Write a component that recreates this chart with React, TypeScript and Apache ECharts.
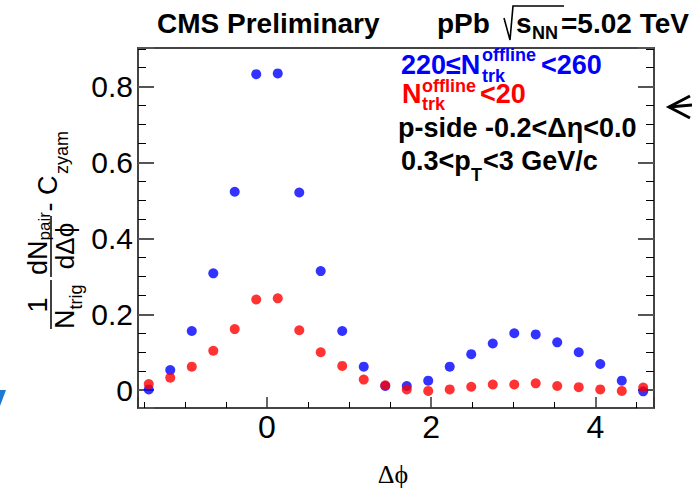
import React, { useEffect, useRef } from "react";
import * as echarts from "echarts";

const dphi = [-1.440, -1.178, -0.916, -0.654, -0.393, -0.131, 0.131, 0.393, 0.654, 0.916, 1.178, 1.440,
  1.702, 1.963, 2.225, 2.487, 2.749, 3.011, 3.272, 3.534, 3.796, 4.058, 4.320, 4.581];
const highMult = [0.002, 0.053, 0.156, 0.308, 0.523, 0.833, 0.835, 0.521, 0.314, 0.156, 0.062, 0.011,
  0.011, 0.025, 0.062, 0.095, 0.123, 0.150, 0.147, 0.126, 0.100, 0.069, 0.025, -0.003];
const lowMult = [0.016, 0.033, 0.062, 0.104, 0.161, 0.239, 0.242, 0.158, 0.100, 0.064, 0.028, 0.013,
  0.002, -0.002, 0.002, 0.009, 0.015, 0.015, 0.018, 0.011, 0.008, 0.002, -0.002, 0.007];

const X_MIN = -Math.PI / 2;
const X_MAX = (3 * Math.PI) / 2;
const Y_MIN = -0.047;
const Y_MAX = 0.902;

const SANS = '"Liberation Sans", Arial, sans-serif';
const SERIF = '"Liberation Serif", "Times New Roman", serif';

function txt(text: string, x: number, y: number, size: number, color: string, bold = true, align = "left", family = SANS) {
  return {
    type: "text",
    x,
    y,
    silent: true,
    style: {
      text,
      fill: color,
      font: `${bold ? "bold " : ""}${size}px ${family}`,
      lineHeight: Math.round(size * 0.75),
      align,
      verticalAlign: "middle",
      textAlign: align,
      textVerticalAlign: "middle",
    },
  };
}

export default function App() {
  const ref = useRef<HTMLDivElement>(null);
  useEffect(() => {
    if (!ref.current) return;
    const chart = echarts.init(ref.current, null, { renderer: "svg" });

    const yTitle = {
      type: "group",
      x: 51,
      y: 332,
      rotation: Math.PI / 2,
      children: [
        { type: "line", shape: { x1: 3, y1: 0, x2: 52, y2: 0 }, style: { stroke: "#000", lineWidth: 1.5 } },
        txt("1", 27, -13, 27, "#000", false, "center"),
        txt("N", 3, 14, 27, "#000", false, "left"),
        txt("trig", 22.5, 25, 18, "#000", false, "left"),
        { type: "line", shape: { x1: 55, y1: 0, x2: 116, y2: 0 }, style: { stroke: "#000", lineWidth: 1.5 } },
        txt("dN", 57, -13, 27, "#000", false, "left"),
        txt("pair", 91.5, -7, 17, "#000", false, "left"),
        txt("dΔϕ", 86, 14, 26, "#000", false, "center"),
        txt("-", 125, -2, 27, "#000", false, "center"),
        txt("C", 137, -3, 27, "#000", false, "left"),
        txt("zyam", 158, 11, 18, "#000", false, "left"),
      ],
    };

    const tickAxisCommon = {
      type: "value",
      axisLine: { show: false, onZero: false },
      splitLine: { show: false },
      minorSplitLine: { show: false },
    };

    const option = {
      animation: false,
      backgroundColor: "#fff",
      textStyle: { fontFamily: SANS },
      grid: {
        left: 138,
        right: 38,
        top: 48,
        bottom: 83,
        show: true,
        borderColor: "#444",
        borderWidth: 2,
        backgroundColor: "transparent",
      },
      xAxis: {
        ...tickAxisCommon,
        min: X_MIN,
        max: X_MAX,
        splitNumber: 3,
        axisTick: { inside: true, length: 11, lineStyle: { color: "#333", width: 1.5 } },
        minorTick: { show: true, splitNumber: 4, length: 6, lineStyle: { color: "#000", width: 1 } },
        axisLabel: {
          fontSize: 32,
          color: "#000",
          margin: 3,
          showMinLabel: false,
          showMaxLabel: false,
          fontFamily: SANS,
        },
      },
      yAxis: [
        {
          ...tickAxisCommon,
          min: Y_MIN,
          max: Y_MAX,
          splitNumber: 5,
          axisTick: { inside: true, length: 16, lineStyle: { color: "#555", width: 2 } },
          minorTick: { show: true, splitNumber: 4, length: 8, lineStyle: { color: "#000", width: 1 } },
          axisLabel: {
            fontSize: 30,
            color: "#000",
            margin: 5,
            showMinLabel: false,
            showMaxLabel: false,
            fontFamily: SANS,
          },
        },
        {
          ...tickAxisCommon,
          position: "right",
          min: Y_MIN,
          max: Y_MAX,
          splitNumber: 5,
          axisTick: { inside: true, length: 16, lineStyle: { color: "#555", width: 2 } },
          minorTick: { show: true, splitNumber: 4, length: 8, lineStyle: { color: "#000", width: 1 } },
          axisLabel: { show: false },
        },
      ],
      series: [
        {
          name: "220≤N<260",
          type: "scatter",
          symbol: "circle",
          symbolSize: 10,
          itemStyle: { color: "#0000ff" },
          data: dphi.map((x, i) => [x, highMult[i]]),
          z: 2,
        },
        {
          name: "N<20",
          type: "scatter",
          symbol: "circle",
          symbolSize: 10,
          itemStyle: { color: "#ff0000" },
          data: dphi.map((x, i) => [x, lowMult[i]]),
          z: 3,
        },
      ],
      graphic: {
        elements: [
          txt("CMS Preliminary", 157, 23, 28, "#000", true, "left"),
          txt("pPb", 437, 23, 28, "#000", true, "left"),
          {
            type: "polyline",
            shape: { points: [[504, 18], [510, 40], [513, 6], [564, 6]] },
            style: { stroke: "#000", lineWidth: 1.6, fill: "none" },
          },
          txt("s", 516, 23, 28, "#000", true, "left"),
          txt("NN", 532, 33, 18, "#000", true, "left"),
          txt("=5.02 TeV", 561, 23, 28, "#000", true, "left"),

          txt("220≤N", 401, 65, 27, "#0000ff", true, "left"),
          txt("offline", 482, 55, 18, "#0000ff", true, "left"),
          txt("trk", 482, 76, 18, "#0000ff", true, "left"),
          txt("<260", 541, 65, 27, "#0000ff", true, "left"),

          txt("N", 402, 94, 27, "#ff0000", true, "left"),
          txt("offline", 422, 86, 18, "#ff0000", true, "left"),
          txt("trk", 422, 104, 18, "#ff0000", true, "left"),
          txt("<20", 480, 94, 27, "#ff0000", true, "left"),

          txt("p-side -0.2<Δη<0.0", 398, 128, 27, "#000", true, "left"),
          txt("0.3<p", 401, 161, 27, "#000", true, "left"),
          txt("T", 471, 175, 18, "#000", true, "left"),
          txt("<3 GeV/c", 483, 161, 27, "#000", true, "left"),

          {
            type: "polyline",
            shape: { points: [[690, 96], [669, 107], [690, 118]] },
            style: { stroke: "#000", lineWidth: 3, fill: "none" },
          },
          {
            type: "line",
            shape: { x1: 669, y1: 107, x2: 692, y2: 105 },
            style: { stroke: "#000", lineWidth: 3 },
          },
          {
            type: "polygon",
            shape: { points: [[0, 390], [6, 390], [0, 406]] },
            style: { fill: "#1f78d1" },
          },

          yTitle,
          txt("Δϕ", 393, 474, 26, "#000", false, "center", SERIF),
        ],
      },
    };
    chart.setOption(option as any);
    return () => chart.dispose();
  }, []);

  return (
    <div
      ref={ref}
      style={{ position: "fixed", left: 0, top: 0, width: 692, height: 491, background: "#fff" }}
    />
  );
}
